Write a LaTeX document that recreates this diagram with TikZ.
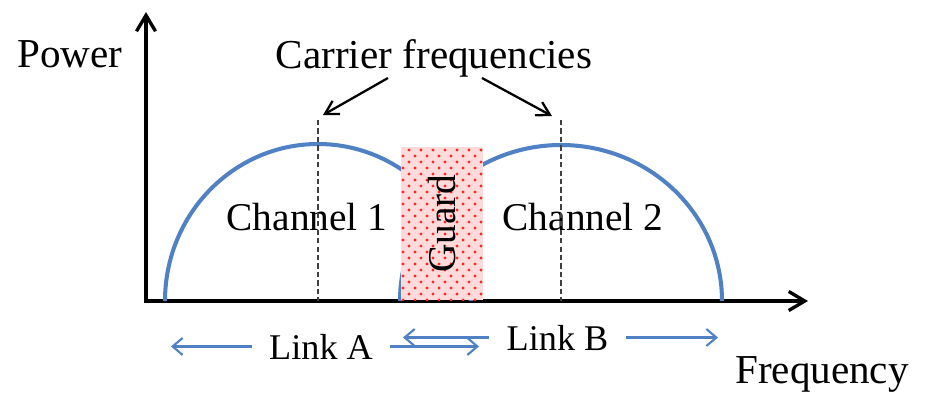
\documentclass[tikz,border=0pt]{standalone}
\usepackage{fontspec}
\setmainfont{Liberation Serif}
\usetikzlibrary{arrows.meta,patterns.meta}

\definecolor{chanblue}{RGB}{79,129,196}

\tikzdeclarepattern{
  name=guarddots,
  type=uncolored,
  bottom left={(0pt,0pt)},
  top right={(3.4pt,3.4pt)},
  tile size={(3.4pt,3.4pt)},
  code={
    \fill (0.85pt,0.85pt) circle (0.45pt);
    \fill (2.55pt,2.55pt) circle (0.45pt);
  }
}

\begin{document}
\begin{tikzpicture}[
  axis/.style={line width=0.95pt,line join=miter,{Straight Barb[length=1.6mm,width=1.9mm]}-{Straight Barb[length=1.6mm,width=1.9mm]}},
  channel/.style={chanblue,line width=1.15pt},
  carrier line/.style={black!75,line width=0.35pt,dash pattern=on 1.5pt off 0.9pt},
  pointer/.style={line width=0.65pt,-{Straight Barb[length=1.3mm,width=1.5mm]}},
  link arrow/.style={chanblue,line width=0.6pt,-{Straight Barb[length=1mm,width=1.7mm]}},
  big label/.style={font=\fontsize{11.7pt}{14pt}\selectfont,inner sep=0pt,anchor=base},
  chan label/.style={font=\fontsize{11.2pt}{13pt}\selectfont,inner sep=0pt,anchor=base},
  link label/.style={font=\fontsize{10.3pt}{12pt}\selectfont,inner xsep=1.7mm,inner ysep=0pt,anchor=base},
  guard box/.style={rotate=90,minimum width=1.53cm,minimum height=0.82cm,inner sep=0pt,
    preaction={fill=red!14},pattern=guarddots,pattern color=red!85,
    font=\fontsize{11.2pt}{13pt}\selectfont}]

  \useasboundingbox (0,0) rectangle (9.27,3.92);

  % axes
  \coordinate (origin) at (1.46,0.91);
  \coordinate (ytip) at (1.46,3.80);
  \coordinate (xtip) at (8.08,0.91);
  \draw[axis] (ytip) -- (origin) -- (xtip);

  \node[big label] (power) at (0.70,3.25) {Power};
  \node[big label] (freq) at (8.22,0.09) {Frequency};

  % channels
  \draw[channel] (1.65,0.91) arc[start angle=180,end angle=0,x radius=1.53,y radius=1.57];
  \draw[channel] (4.00,0.91) arc[start angle=180,end angle=0,x radius=1.61,y radius=1.56];

  \node[guard box] (guard) at (4.42,1.685) {Guard};

  \node[chan label] (ch1) at (3.07,1.62) {Channel 1};
  \node[chan label] (ch2) at (5.83,1.62) {Channel 2};

  % carrier frequencies
  \coordinate (dashA) at (3.18,2.72);
  \coordinate (dashB) at (5.61,2.72);
  \draw[carrier line] (dashA) -- (dashA |- origin);
  \draw[carrier line] (dashB) -- (dashB |- origin);

  \node[big label] (carrier) at (4.34,3.24) {Carrier frequencies};
  \coordinate (cfA) at (3.88,3.14);
  \coordinate (cfB) at (4.82,3.14);
  \coordinate (tipA) at (3.23,2.77);
  \coordinate (tipB) at (5.52,2.76);
  \draw[pointer] (cfA) -- (tipA);
  \draw[pointer] (cfB) -- (tipB);

  % links
  \node[link label] (linkA) at (3.21,0.33) {Link A};
  \node[link label] (linkB) at (5.575,0.42) {Link B};
  \coordinate (endA1) at (1.71,0.45);
  \coordinate (endA2) at (4.79,0.45);
  \coordinate (endB1) at (4.03,0.56);
  \coordinate (endB2) at (7.18,0.56);
  \draw[link arrow] (linkA.west) -- (linkA.west -| endA1);
  \draw[link arrow] (linkA.east) -- (linkA.east -| endA2);
  \draw[link arrow] (linkB.west) -- (linkB.west -| endB1);
  \draw[link arrow] (linkB.east) -- (linkB.east -| endB2);
\end{tikzpicture}
\end{document}
